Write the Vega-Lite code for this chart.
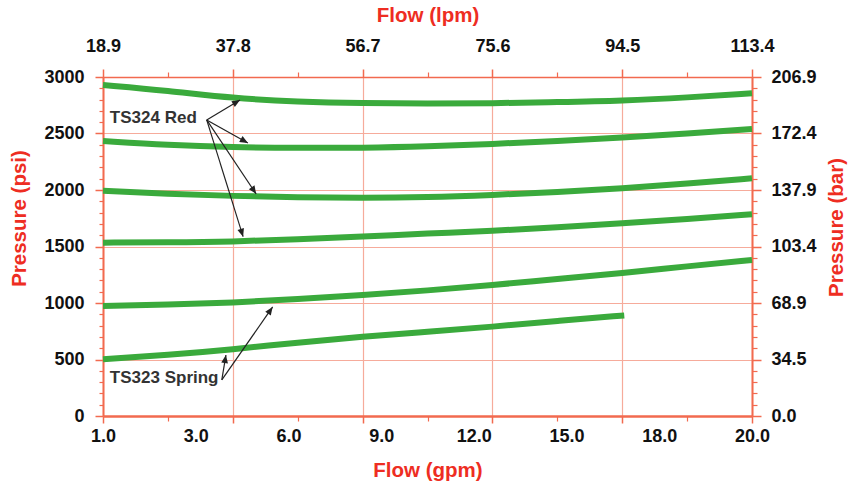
{
  "$schema": "https://vega.github.io/schema/vega-lite/v6.json",
  "width": 649,
  "height": 339,
  "autosize": {"type": "none"},
  "padding": {"left": 103, "top": 77, "right": 96, "bottom": 72},
  "background": "#ffffff",
  "config": {
    "view": {"stroke": null},
    "font": "Liberation Sans",
    "axis": {
      "labelFont": "Liberation Sans",
      "labelFontWeight": "bold",
      "labelFontSize": 18,
      "labelColor": "#111111",
      "labelOverlap": false,
      "labelFlush": false,
      "labelBound": false,
      "titleFont": "Liberation Sans",
      "titleFontWeight": "bold",
      "titleFontSize": 20.5,
      "titleColor": "#ee2d22",
      "domainColor": "#f26a4f",
      "tickColor": "#f26a4f",
      "gridColor": "#f6ab9b",
      "gridOpacity": 1
    }
  },
  "datasets": {
    "curves": [
      {"curve": "a", "model": "TS324 Red", "flow_lpm": 18.9, "psi": 2929},
      {"curve": "a", "model": "TS324 Red", "flow_lpm": 28.35, "psi": 2879},
      {"curve": "a", "model": "TS324 Red", "flow_lpm": 37.8, "psi": 2812},
      {"curve": "a", "model": "TS324 Red", "flow_lpm": 47.25, "psi": 2780},
      {"curve": "a", "model": "TS324 Red", "flow_lpm": 56.7, "psi": 2767},
      {"curve": "a", "model": "TS324 Red", "flow_lpm": 66.15, "psi": 2765},
      {"curve": "a", "model": "TS324 Red", "flow_lpm": 75.6, "psi": 2767},
      {"curve": "a", "model": "TS324 Red", "flow_lpm": 85.05, "psi": 2778},
      {"curve": "a", "model": "TS324 Red", "flow_lpm": 94.5, "psi": 2790},
      {"curve": "a", "model": "TS324 Red", "flow_lpm": 103.95, "psi": 2818},
      {"curve": "a", "model": "TS324 Red", "flow_lpm": 113.4, "psi": 2856},
      {"curve": "b", "model": "TS324 Red", "flow_lpm": 18.9, "psi": 2434},
      {"curve": "b", "model": "TS324 Red", "flow_lpm": 28.35, "psi": 2398},
      {"curve": "b", "model": "TS324 Red", "flow_lpm": 37.8, "psi": 2378},
      {"curve": "b", "model": "TS324 Red", "flow_lpm": 47.25, "psi": 2372},
      {"curve": "b", "model": "TS324 Red", "flow_lpm": 56.7, "psi": 2372},
      {"curve": "b", "model": "TS324 Red", "flow_lpm": 66.15, "psi": 2385},
      {"curve": "b", "model": "TS324 Red", "flow_lpm": 75.6, "psi": 2407},
      {"curve": "b", "model": "TS324 Red", "flow_lpm": 85.05, "psi": 2434},
      {"curve": "b", "model": "TS324 Red", "flow_lpm": 94.5, "psi": 2463},
      {"curve": "b", "model": "TS324 Red", "flow_lpm": 103.95, "psi": 2500},
      {"curve": "b", "model": "TS324 Red", "flow_lpm": 113.4, "psi": 2540},
      {"curve": "c", "model": "TS324 Red", "flow_lpm": 18.9, "psi": 1994},
      {"curve": "c", "model": "TS324 Red", "flow_lpm": 28.35, "psi": 1965},
      {"curve": "c", "model": "TS324 Red", "flow_lpm": 37.8, "psi": 1947},
      {"curve": "c", "model": "TS324 Red", "flow_lpm": 47.25, "psi": 1935},
      {"curve": "c", "model": "TS324 Red", "flow_lpm": 56.7, "psi": 1929},
      {"curve": "c", "model": "TS324 Red", "flow_lpm": 66.15, "psi": 1935},
      {"curve": "c", "model": "TS324 Red", "flow_lpm": 75.6, "psi": 1956},
      {"curve": "c", "model": "TS324 Red", "flow_lpm": 85.05, "psi": 1982},
      {"curve": "c", "model": "TS324 Red", "flow_lpm": 94.5, "psi": 2015},
      {"curve": "c", "model": "TS324 Red", "flow_lpm": 103.95, "psi": 2055},
      {"curve": "c", "model": "TS324 Red", "flow_lpm": 113.4, "psi": 2104},
      {"curve": "d", "model": "TS324 Red", "flow_lpm": 18.9, "psi": 1534},
      {"curve": "d", "model": "TS324 Red", "flow_lpm": 28.35, "psi": 1536},
      {"curve": "d", "model": "TS324 Red", "flow_lpm": 37.8, "psi": 1543},
      {"curve": "d", "model": "TS324 Red", "flow_lpm": 47.25, "psi": 1564},
      {"curve": "d", "model": "TS324 Red", "flow_lpm": 56.7, "psi": 1587},
      {"curve": "d", "model": "TS324 Red", "flow_lpm": 66.15, "psi": 1615},
      {"curve": "d", "model": "TS324 Red", "flow_lpm": 75.6, "psi": 1637},
      {"curve": "d", "model": "TS324 Red", "flow_lpm": 85.05, "psi": 1670},
      {"curve": "d", "model": "TS324 Red", "flow_lpm": 94.5, "psi": 1705},
      {"curve": "d", "model": "TS324 Red", "flow_lpm": 103.95, "psi": 1743},
      {"curve": "d", "model": "TS324 Red", "flow_lpm": 113.4, "psi": 1785},
      {"curve": "e", "model": "TS323 Spring", "flow_lpm": 18.9, "psi": 973},
      {"curve": "e", "model": "TS323 Spring", "flow_lpm": 28.35, "psi": 985},
      {"curve": "e", "model": "TS323 Spring", "flow_lpm": 37.8, "psi": 1003},
      {"curve": "e", "model": "TS323 Spring", "flow_lpm": 47.25, "psi": 1033},
      {"curve": "e", "model": "TS323 Spring", "flow_lpm": 56.7, "psi": 1071},
      {"curve": "e", "model": "TS323 Spring", "flow_lpm": 66.15, "psi": 1110},
      {"curve": "e", "model": "TS323 Spring", "flow_lpm": 75.6, "psi": 1159},
      {"curve": "e", "model": "TS323 Spring", "flow_lpm": 85.05, "psi": 1212},
      {"curve": "e", "model": "TS323 Spring", "flow_lpm": 94.5, "psi": 1263},
      {"curve": "e", "model": "TS323 Spring", "flow_lpm": 103.95, "psi": 1325},
      {"curve": "e", "model": "TS323 Spring", "flow_lpm": 113.4, "psi": 1381},
      {"curve": "f", "model": "TS323 Spring", "flow_lpm": 18.9, "psi": 502},
      {"curve": "f", "model": "TS323 Spring", "flow_lpm": 28.35, "psi": 540},
      {"curve": "f", "model": "TS323 Spring", "flow_lpm": 37.8, "psi": 590},
      {"curve": "f", "model": "TS323 Spring", "flow_lpm": 47.25, "psi": 650},
      {"curve": "f", "model": "TS323 Spring", "flow_lpm": 56.7, "psi": 702},
      {"curve": "f", "model": "TS323 Spring", "flow_lpm": 66.15, "psi": 745},
      {"curve": "f", "model": "TS323 Spring", "flow_lpm": 75.6, "psi": 790},
      {"curve": "f", "model": "TS323 Spring", "flow_lpm": 85.05, "psi": 841},
      {"curve": "f", "model": "TS323 Spring", "flow_lpm": 94.8, "psi": 890}
    ],
    "arrows": [
      {"label": "TS324 Red", "x0": 34.0, "y0": 2620, "xh": 38.85, "yh": 2797},
      {"label": "TS324 Red", "x0": 34.0, "y0": 2620, "xh": 40.0, "yh": 2416},
      {"label": "TS324 Red", "x0": 34.0, "y0": 2620, "xh": 41.2, "yh": 1965},
      {"label": "TS324 Red", "x0": 34.0, "y0": 2620, "xh": 39.3, "yh": 1587},
      {"label": "TS323 Spring", "x0": 36.2, "y0": 319, "xh": 36.8, "yh": 540},
      {"label": "TS323 Spring", "x0": 36.2, "y0": 319, "xh": 43.6, "yh": 965}
    ],
    "notes": [
      {"label": "TS324 Red", "x": 19.9, "y": 2637},
      {"label": "TS323 Spring", "x": 19.9, "y": 336}
    ]
  },
  "layer": [
    {
      "data": {"name": "curves"},
      "transform": [{"filter": "datum.model == 'TS324 Red'"}],
      "mark": {"type": "line", "color": "#3aaa3c", "strokeWidth": 6, "interpolate": "basis"},
      "encoding": {
        "x": {
          "field": "flow_lpm", "type": "quantitative",
          "scale": {"domain": [18.9, 113.4], "nice": false, "zero": false},
          "axis": {"orient": "bottom", "values": [18.9, 37.8, 56.7, 75.6, 94.5, 113.4], "labels": false, "ticks": true, "tickSize": 7, "tickWidth": 1.5, "grid": true, "gridWidth": 1.2, "domain": true, "domainWidth": 2.5, "title": null}
        },
        "y": {
          "field": "psi", "type": "quantitative",
          "scale": {"domain": [0, 3000], "nice": false, "zero": false},
          "axis": {"orient": "left", "values": [0, 500, 1000, 1500, 2000, 2500, 3000], "format": "d", "grid": true, "gridWidth": 1.2, "tickSize": 8, "tickWidth": 1.5, "domain": true, "domainWidth": 2, "labelPadding": 11, "title": "Pressure (psi)", "titleX": -84, "titleY": 141, "titleAlign": "center", "titleBaseline": "middle", "titleAngle": 270}
        },
        "detail": {"field": "curve"}
      }
    },
    {
      "data": {"name": "curves"},
      "transform": [{"filter": "datum.model == 'TS323 Spring'"}],
      "mark": {"type": "line", "color": "#3aaa3c", "strokeWidth": 6, "interpolate": "basis"},
      "encoding": {
        "x": {
          "field": "flow_lpm", "type": "quantitative",
          "axis": {"orient": "bottom", "values": [18.9, 32.4, 45.9, 59.4, 72.9, 86.4, 99.9, 113.4], "labelExpr": "['1.0','3.0','6.0','9.0','12.0','15.0','18.0','20.0'][round((datum.value - 18.9) / 13.5)]", "ticks": false, "tickSize": 0, "domain": false, "grid": false, "labelPadding": 11, "title": "Flow (gpm)", "titleX": 324.5, "titleY": 54, "titleAlign": "center", "titleBaseline": "middle"}
        },
        "y": {
          "field": "psi", "type": "quantitative",
          "axis": {"orient": "left", "values": [100, 200, 300, 400, 600, 700, 800, 900, 1100, 1200, 1300, 1400, 1600, 1700, 1800, 1900, 2100, 2200, 2300, 2400, 2600, 2700, 2800, 2900], "labels": false, "tickSize": 4, "tickWidth": 1.2, "domain": false, "grid": false, "title": null}
        },
        "detail": {"field": "curve"}
      }
    },
    {
      "data": {"name": "arrows"},
      "mark": {"type": "rule", "color": "#222222", "strokeWidth": 1.2},
      "encoding": {
        "x": {
          "field": "x0", "type": "quantitative",
          "axis": {"orient": "top", "values": [18.9, 37.8, 56.7, 75.6, 94.5, 113.4], "format": ".1f", "tickSize": 8, "tickWidth": 1.5, "labelPadding": 14, "domain": true, "domainWidth": 1.5, "grid": false, "title": "Flow (lpm)", "titleX": 324.5, "titleY": -62, "titleAlign": "center", "titleBaseline": "middle"}
        },
        "y": {
          "field": "y0", "type": "quantitative",
          "axis": {"orient": "right", "values": [0, 500, 1000, 1500, 2000, 2500, 3000], "labelExpr": "['0.0','34.5','68.9','103.4','137.9','172.4','206.9'][round(datum.value / 500)]", "tickSize": 9, "tickWidth": 1.5, "labelPadding": 10, "domain": true, "domainWidth": 2, "grid": false, "title": "Pressure (bar)", "titleAngle": 270, "titleX": 84, "titleY": 150, "titleAlign": "center", "titleBaseline": "middle"}
        },
        "x2": {"field": "xh"},
        "y2": {"field": "yh"}
      }
    },
    {
      "data": {"name": "arrows"},
      "mark": {
        "type": "point", "filled": true, "color": "#222222", "opacity": 1, "size": 260,
        "shape": "M0,0L-0.42,1L0.42,1Z",
        "angle": {"expr": "atan2(scale('x', datum.xh) - scale('x', datum.x0), scale('y', datum.y0) - scale('y', datum.yh)) * 180 / PI"}
      },
      "encoding": {
        "x": {
          "field": "xh", "type": "quantitative",
          "axis": {"orient": "top", "values": [28.35, 47.25, 66.15, 85.05, 103.95], "labels": false, "tickSize": 5, "tickWidth": 1.2, "domain": false, "grid": false, "title": null}
        },
        "y": {
          "field": "yh", "type": "quantitative",
          "axis": {"orient": "right", "values": [100, 200, 300, 400, 600, 700, 800, 900, 1100, 1200, 1300, 1400, 1600, 1700, 1800, 1900, 2100, 2200, 2300, 2400, 2600, 2700, 2800, 2900], "labels": false, "tickSize": 5, "tickWidth": 1.2, "domain": false, "grid": false, "title": null}
        }
      }
    },
    {
      "data": {"name": "notes"},
      "mark": {"type": "text", "align": "left", "baseline": "middle", "font": "Liberation Sans", "fontWeight": "bold", "fontSize": 17, "color": "#333333"},
      "encoding": {
        "x": {
          "field": "x", "type": "quantitative",
          "axis": {"orient": "bottom", "values": [28.35, 47.25, 66.15, 85.05, 103.95], "labels": false, "tickSize": 5, "tickWidth": 1.2, "domain": false, "grid": false, "title": null}
        },
        "y": {"field": "y", "type": "quantitative", "axis": null},
        "text": {"field": "label"}
      }
    }
  ],
  "resolve": {"axis": {"x": "independent", "y": "independent"}}
}
